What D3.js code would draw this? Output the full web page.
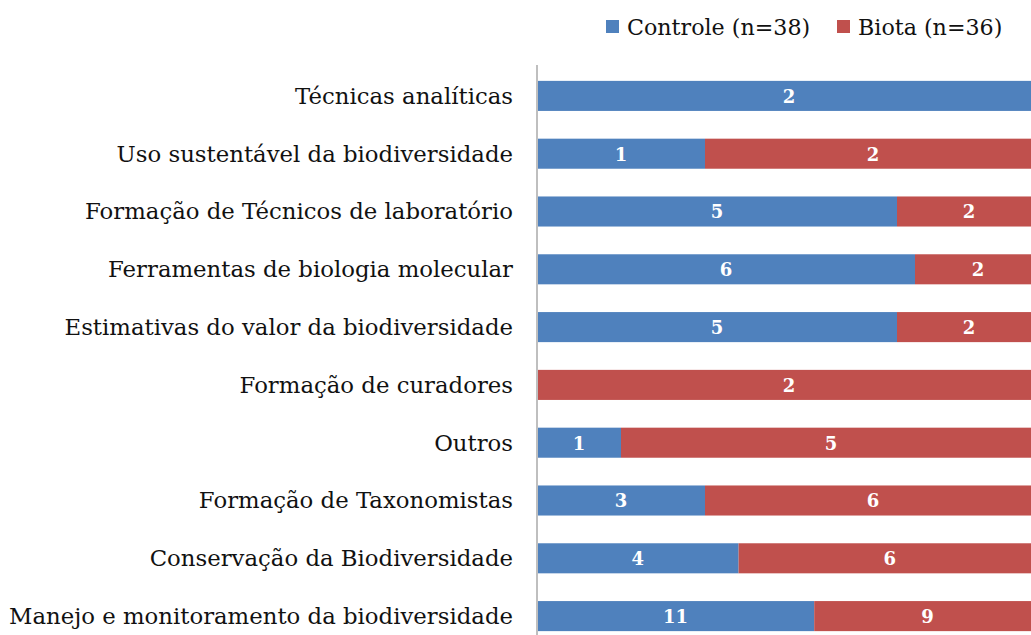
<!DOCTYPE html>
<html>
<head>
<meta charset="utf-8">
<script src="https://cdn.jsdelivr.net/npm/d3@7"></script>
<style>
  body { margin: 0; background: #fff; }
  svg { display: block; }
  text { font-family: "DejaVu Serif", serif; }
</style>
</head>
<body>
<svg id="chart" width="1031" height="635"></svg>
<script>
// categories, top to bottom
const categories = [
  'Técnicas analíticas',
  'Uso sustentável da biodiversidade',
  'Formação de Técnicos de laboratório',
  'Ferramentas de biologia molecular',
  'Estimativas do valor da biodiversidade',
  'Formação de curadores',
  'Outros',
  'Formação de Taxonomistas',
  'Conservação da Biodiversidade',
  'Manejo e monitoramento da biodiversidade'
];
const controle = [2, 1, 5, 6, 5, 0, 1, 3, 4, 11];
const biota    = [0, 2, 2, 2, 2, 2, 5, 6, 6, 9];
const seriesNames = ['Controle (n=38)', 'Biota (n=36)'];
const colors = ['#4f81bd', '#c0504d'];

const svg = d3.select('#chart');

// 100% stacked; right edge runs past the picture and gets cut off
const x = d3.scaleLinear().domain([0, 1]).range([537, 1041]);
const y = d3.scaleBand().domain(categories).range([67, 645]).paddingInner(0.48).paddingOuter(0.24);

const rows = categories.map((c, i) => {
  const tot = controle[i] + biota[i];
  return {cat: c, vals: [controle[i], biota[i]], tot};
});

const segs = [];
rows.forEach(r => {
  let acc = 0;
  r.vals.forEach((v, s) => {
    if (v > 0) segs.push({cat: r.cat, s, v, x0: acc / r.tot, x1: (acc + v) / r.tot});
    acc += v;
  });
});

svg.selectAll('rect.bar')
  .data(segs)
  .join('rect')
    .attr('class', 'bar')
    .attr('x', d => x(d.x0))
    .attr('width', d => x(d.x1) - x(d.x0))
    .attr('y', d => y(d.cat))
    .attr('height', y.bandwidth())
    .attr('fill', d => colors[d.s])
  ;

svg.selectAll('text.val')
  .data(segs)
  .join('text')
    .attr('class', 'val')
    .attr('x', d => (x(d.x0) + x(d.x1)) / 2)
    .attr('y', d => y(d.cat) + y.bandwidth() / 2)
    .attr('dy', '0.38em')
    .attr('text-anchor', 'middle')
    .attr('fill', '#fff')
    .attr('font-weight', 'bold')
    .attr('font-size', 18)
    .text(d => d.v)
  ;

// category axis
const yAxis = svg.append('g')
  .attr('transform', 'translate(537,0)')
  .call(d3.axisLeft(y).tickSize(0).tickPadding(24));
yAxis.select('.domain').remove();
yAxis.selectAll('text')
  .attr('font-family', '"DejaVu Serif", serif')
  .attr('font-size', 22.8)
  .attr('fill', '#111')
  .attr('dy', '0.35em');

svg.append('line')
  .attr('x1', 537).attr('x2', 537)
  .attr('y1', 65).attr('y2', 635)
  .attr('stroke', '#bfbfbf')
  .attr('stroke-width', 2);

// legend
const legendX = [606, 837];
const legend = svg.selectAll('g.legend')
  .data(seriesNames)
  .join('g')
    .attr('class', 'legend')
    .attr('transform', (d, i) => `translate(${legendX[i]},20)`);
legend.append('rect')
  .attr('width', 13).attr('height', 13)
  .attr('fill', (d, i) => colors[i]);
legend.append('text')
  .attr('x', 21).attr('y', 7)
  .attr('dy', '0.35em')
  .attr('font-size', 22.2)
  .attr('fill', '#111')
  .text(d => d);
</script>
</body>
</html>
